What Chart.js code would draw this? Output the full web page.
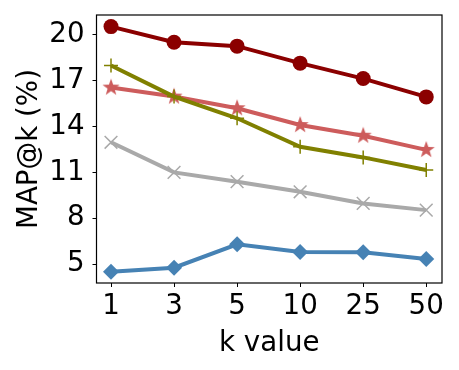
<!DOCTYPE html>
<html>
<head>
<meta charset="utf-8">
<script src="https://cdn.jsdelivr.net/npm/chart.js@4"></script>
<style>
  html, body { margin: 0; padding: 0; background: #fff; }
  #wrap { width: 459px; height: 370px; }
</style>
</head>
<body>
<div id="wrap"><canvas id="chart" width="459" height="370"></canvas></div>
<script>
// chart values
let kLabels = ["1", "3", "5", "10", "25", "50"];
let yTicks = [5, 8, 11, 14, 17, 20];

let darkRed = [20.54, 19.52, 19.26, 18.15, 17.14, 15.94];
let olive = [17.99, 15.96, 14.54, 12.68, 11.98, 11.15];
let lightRed = [16.55, 15.96, 15.2, 14.1, 13.4, 12.47];
let gray = [12.97, 11.0, 10.39, 9.73, 8.97, 8.53];
let blue = [4.5, 4.76, 6.29, 5.79, 5.77, 5.33];

function pts(arr) {
  return arr.map((v, i) => ({ x: i, y: v }));
}

// filled five point star like matplotlib's '*'
function makeStar(color, r) {
  let c = document.createElement("canvas");
  let s = Math.ceil(r * 2 + 2);
  c.width = s; c.height = s;
  let g = c.getContext("2d");
  g.fillStyle = color;
  g.beginPath();
  for (let i = 0; i < 10; i++) {
    let rad = i % 2 === 0 ? r : r * 0.4;
    let a = -Math.PI / 2 + i * Math.PI / 5;
    let px = s / 2 + Math.cos(a) * rad;
    let py = s / 2 + Math.sin(a) * rad;
    if (i === 0) g.moveTo(px, py); else g.lineTo(px, py);
  }
  g.closePath();
  g.fill();
  return c;
}

let frame = {
  id: "frame",
  afterDraw(ch) {
    let a = ch.chartArea;
    let ctx = ch.ctx;
    ctx.save();
    ctx.strokeStyle = "#000";
    ctx.lineWidth = 1.2;
    ctx.strokeRect(a.left, a.top, a.right - a.left, a.bottom - a.top);
    ctx.restore();
  }
};

let font = { family: "DejaVu Sans", size: 27.7 };

let chart = new Chart(document.getElementById("chart"), {
  type: "line",
  data: {
    datasets: [
      {
        data: pts(darkRed),
        borderColor: "#8b0000", backgroundColor: "#8b0000",
        borderWidth: 4, pointStyle: "circle", pointRadius: 7.5,
        pointBorderWidth: 0
      },
      {
        data: pts(olive),
        borderColor: "#808000", backgroundColor: "#808000",
        borderWidth: 4, pointStyle: "cross", pointRadius: 7,
        pointBorderWidth: 1.5
      },
      {
        data: pts(lightRed),
        borderColor: "#cd5c5c", backgroundColor: "#cd5c5c",
        borderWidth: 4, pointStyle: makeStar("#cd5c5c", 9),
        pointRadius: 9
      },
      {
        data: pts(gray),
        borderColor: "#a9a9a9", backgroundColor: "#a9a9a9",
        borderWidth: 4, pointStyle: "crossRot", pointRadius: 9,
        pointBorderWidth: 1.5
      },
      {
        data: pts(blue),
        borderColor: "#4682b4", backgroundColor: "#4682b4",
        borderWidth: 4, pointStyle: "rectRot", pointRadius: 8,
        pointBorderWidth: 0
      }
    ]
  },
  options: {
    responsive: false,
    animation: false,
    layout: { padding: { top: 15, right: 17, left: 0, bottom: 0 } },
    plugins: { legend: { display: false }, tooltip: { enabled: false } },
    scales: {
      x: {
        type: "linear",
        min: -0.23, max: 5.25,
        afterBuildTicks: s => { s.ticks = kLabels.map((_, i) => ({ value: i })); },
        afterFit: s => { s.height = 87; s.paddingLeft = 0; s.paddingRight = 0; },
        grid: { drawOnChartArea: false, color: "#000", tickLength: 4 },
        border: { display: false },
        ticks: {
          color: "#000", font: font, padding: 3, maxRotation: 0,
          callback: v => kLabels[v]
        },
        title: { display: true, text: "k value", color: "#000", font: font, padding: { top: 0, bottom: 10 } }
      },
      y: {
        min: 3.76, max: 21.3,
        afterBuildTicks: s => { s.ticks = yTicks.map(v => ({ value: v })); },
        afterFit: s => { s.width = 96.5; s.paddingTop = 0; s.paddingBottom = 0; },
        grid: { drawOnChartArea: false, color: "#000", tickLength: 4 },
        border: { display: false },
        ticks: { color: "#000", font: font, padding: 8 },
        title: { display: true, text: "MAP@k (%)", color: "#000", font: font, padding: { top: 13, bottom: 0 } }
      }
    }
  },
  plugins: [frame]
});
</script>
</body>
</html>
